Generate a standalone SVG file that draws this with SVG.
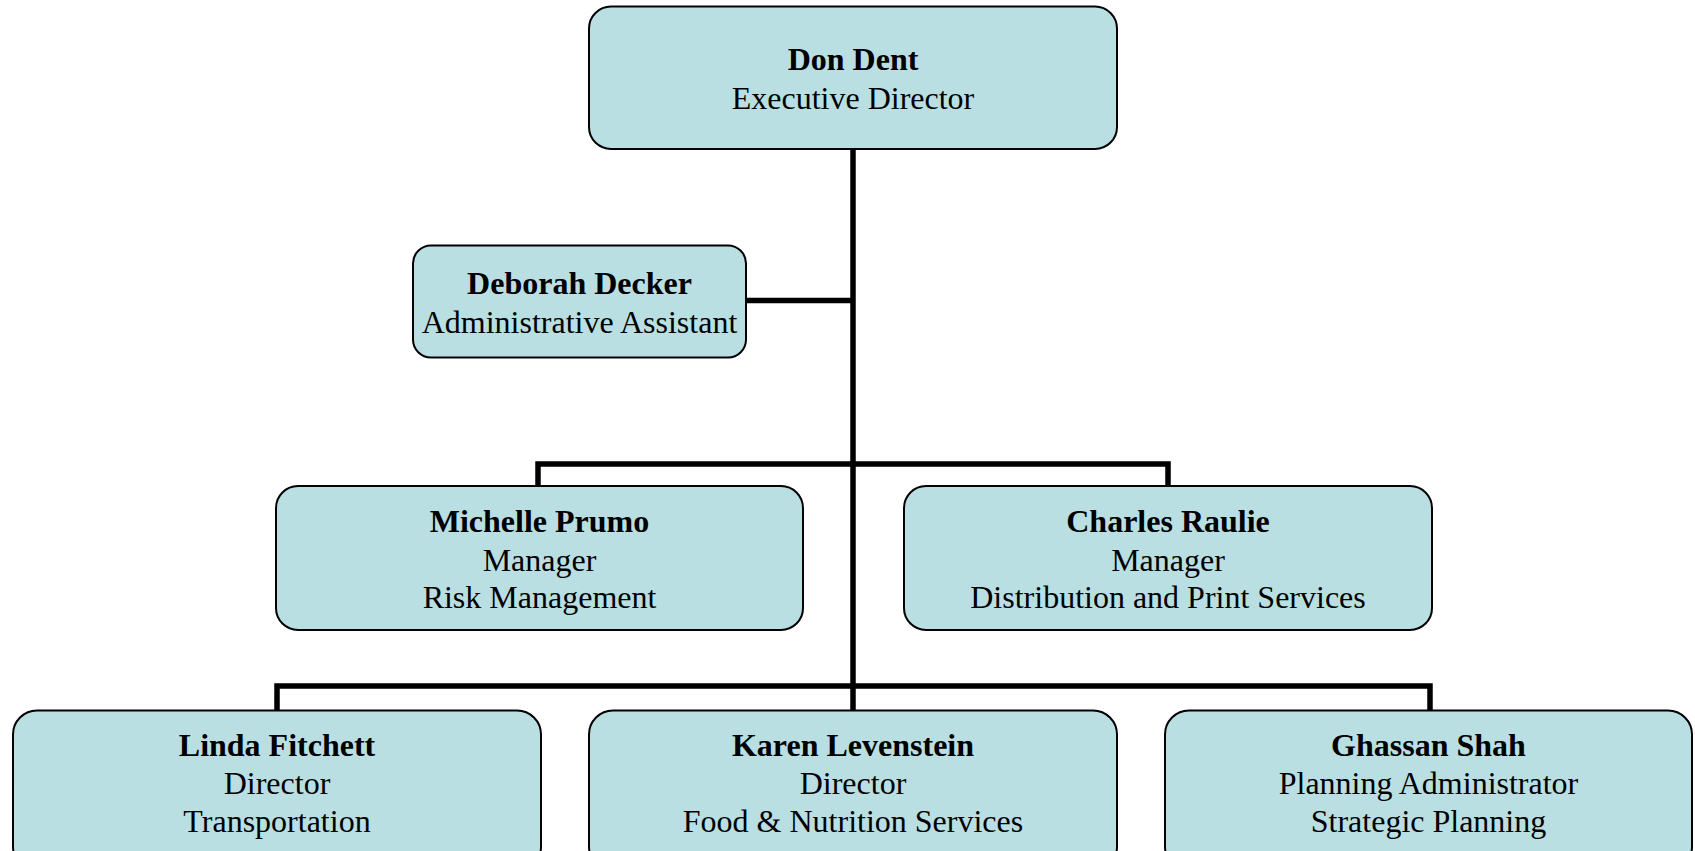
<svg xmlns="http://www.w3.org/2000/svg" width="1695" height="851" viewBox="0 0 1695 851">
<style>
.box{fill:#b9dfe3;stroke:#000;stroke-width:2}
.line{stroke:#000;stroke-width:5.5;fill:none;stroke-linecap:butt}
text{font-family:"Liberation Serif","Times New Roman",serif;font-size:32px;fill:#000;text-anchor:middle}
.n{font-weight:bold}
</style>
<rect width="1695" height="851" fill="#fff"/>
<g id="connectors">
<path class="line" d="M853,149 V710"/>
<path class="line" d="M746,300.5 H853"/>
<path class="line" d="M538,486 V464 H1168 V486"/>
<path class="line" d="M277,710 V686 H1430 V710"/>
</g>
<g id="don-dent">
<rect class="box" x="589" y="6.5" width="528" height="142.5" rx="22"/>
<text class="n" x="853" y="70">Don Dent</text>
<text x="853" y="109">Executive Director</text>
</g>
<g id="deborah-decker">
<rect class="box" x="413" y="245.5" width="333" height="112" rx="18"/>
<text class="n" x="579.5" y="294">Deborah Decker</text>
<text x="579.5" y="333">Administrative Assistant</text>
</g>
<g id="michelle-prumo">
<rect class="box" x="276" y="486" width="527" height="144" rx="22"/>
<text class="n" x="539.5" y="532">Michelle Prumo</text>
<text x="539.5" y="571">Manager</text>
<text x="539.5" y="608">Risk Management</text>
</g>
<g id="charles-raulie">
<rect class="box" x="904" y="486" width="528" height="144" rx="22"/>
<text class="n" x="1168" y="532">Charles Raulie</text>
<text x="1168" y="571">Manager</text>
<text x="1168" y="608">Distribution and Print Services</text>
</g>
<g id="linda-fitchett">
<rect class="box" x="13" y="710.5" width="528" height="160" rx="24"/>
<text class="n" x="277" y="756">Linda Fitchett</text>
<text x="277" y="794">Director</text>
<text x="277" y="832">Transportation</text>
</g>
<g id="karen-levenstein">
<rect class="box" x="589" y="710.5" width="528" height="160" rx="24"/>
<text class="n" x="853" y="756">Karen Levenstein</text>
<text x="853" y="794">Director</text>
<text x="853" y="832">Food &amp; Nutrition Services</text>
</g>
<g id="ghassan-shah">
<rect class="box" x="1165" y="710.5" width="527" height="160" rx="24"/>
<text class="n" x="1428.5" y="756">Ghassan Shah</text>
<text x="1428.5" y="794">Planning Administrator</text>
<text x="1428.5" y="832">Strategic Planning</text>
</g>
</svg>
